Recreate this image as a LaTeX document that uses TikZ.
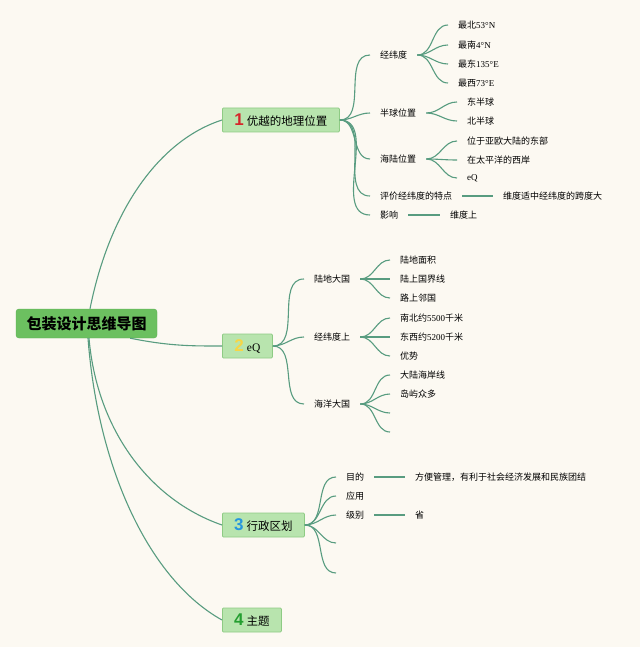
\documentclass[tikz,border=0pt]{standalone}
\usepackage{fontspec}
\setmainfont{Liberation Serif}
\newfontfamily\cjk{Noto Sans CJK SC}
\newfontfamily\numfont{Liberation Sans}
\usetikzlibrary{calc}
\definecolor{paper}{RGB}{252,249,242}
\definecolor{twig}{RGB}{88,156,128}
\definecolor{rootgreen}{RGB}{108,192,96}
\definecolor{rootedge}{RGB}{92,176,82}
\definecolor{boughfill}{RGB}{184,228,174}
\definecolor{boughedge}{RGB}{142,203,132}
\definecolor{numred}{RGB}{214,38,42}
\definecolor{numyellow}{RGB}{246,214,70}
\definecolor{numblue}{RGB}{38,150,222}
\definecolor{numgreen}{RGB}{36,158,48}
\tikzset{
	link/.style={draw=twig, line width=1.1pt},
	trunk/.style={fill=rootgreen, draw=rootedge, rounded corners=3pt, minimum width=141pt, minimum height=29pt, inner sep=0pt, font=\cjk\bfseries\fontsize{15}{15}\selectfont},
	bough/.style={fill=boughfill, draw=boughedge, line width=0.8pt, rounded corners=1pt, minimum height=24pt, inner sep=0pt, anchor=west, font=\cjk\fontsize{11.5}{12}\selectfont},
	leaf/.style={anchor=west, inner xsep=10pt, inner ysep=1pt, font=\cjk\fontsize{9}{10}\selectfont}
}
\newcommand\numb[2]{{\numfont\bfseries\fontsize{17}{17}\selectfont\color{#1}#2}\hspace{3pt}}

\begin{document}
\begin{tikzpicture}[x=1pt, y=-1pt]
			%%%%% START %%%%%
			
			\useasboundingbox (0, 0) rectangle (640, 647);
			\fill[paper] (0, 0) rectangle (640, 647);
			
			\node[trunk] (root) at (86.5, 323.5) {包装设计思维导图};
			
			\node[bough, minimum width=117pt] (b1) at (222, 120) {\numb{numred}{1}优越的地理位置};
			\node[bough, minimum width=50pt] (b2) at (222, 346) {\numb{numyellow}{2}\textrm{eQ}};
			\node[bough, minimum width=82pt] (b3) at (222, 525) {\numb{numblue}{3}行政区划};
			\node[bough, minimum width=59pt] (b4) at (222, 620) {\numb{numgreen}{4}主题};
			
			\draw[link] ([xshift=3.5pt]root.north) .. controls +(20, -100) and +(-62, 20) .. (b1.west);
			\draw[link] ([xshift=-27pt]root.south east) .. controls +(40, 8) and +(-30, 0) .. (b2.west);
			\draw[link] ([xshift=2.5pt]root.south) .. controls +(8, 92) and +(-72, -25) .. (b3.west);
			\draw[link] ([xshift=1.5pt]root.south) .. controls +(10, 132) and +(-72, -40) .. (b4.west);
			
			% 1
			\node[leaf] (c11) at (370, 55) {经纬度};
			\node[leaf] (c12) at (370, 113) {半球位置};
			\node[leaf] (c13) at (370, 159) {海陆位置};
			\node[leaf] (c14) at (370, 196) {评价经纬度的特点};
			\node[leaf] (c15) at (370, 215) {影响};
			\draw[link] (b1.east) to[out=0, in=180] (c11.west);
			\draw[link] (b1.east) to[out=0, in=180] (c12.west);
			\draw[link] (b1.east) to[out=0, in=180] (c13.west);
			\draw[link] (b1.east) to[out=0, in=180] (c14.west);
			\draw[link] (b1.east) to[out=0, in=180] (c15.west);
			
			\node[leaf] (c111) at (448, 25) {最北\textrm{53°N}};
			\node[leaf] (c112) at (448, 45) {最南\textrm{4°N}};
			\node[leaf] (c113) at (448, 64) {最东\textrm{135°E}};
			\node[leaf] (c114) at (448, 83) {最西\textrm{73°E}};
			\draw[link] (c11.east) to[out=0, in=180] (c111.west);
			\draw[link] (c11.east) to[out=0, in=180] (c112.west);
			\draw[link] (c11.east) to[out=0, in=180] (c113.west);
			\draw[link] (c11.east) to[out=0, in=180] (c114.west);
			
			\node[leaf] (c121) at (457, 102) {东半球};
			\node[leaf] (c122) at (457, 121) {北半球};
			\draw[link] (c12.east) to[out=0, in=180] (c121.west);
			\draw[link] (c12.east) to[out=0, in=180] (c122.west);
			
			\node[leaf] (c131) at (457, 141) {位于亚欧大陆的东部};
			\node[leaf] (c132) at (457, 160) {在太平洋的西岸};
			\node[leaf] (c133) at (457, 178) {\textrm{eQ}};
			\draw[link] (c13.east) to[out=0, in=180] (c131.west);
			\draw[link] (c13.east) to[out=0, in=180] (c132.west);
			\draw[link] (c13.east) to[out=0, in=180] (c133.west);
			
			\node[leaf] (c141) at (493, 196) {维度适中经纬度的跨度大};
			\draw[link] (c14.east) -- (c141.west);
			\node[leaf] (c151) at (440, 215) {维度上};
			\draw[link] (c15.east) -- (c151.west);
			
			% 2
			\node[leaf] (d1) at (304, 279) {陆地大国};
			\node[leaf] (d2) at (304, 337) {经纬度上};
			\node[leaf] (d3) at (304, 404) {海洋大国};
			\draw[link] (b2.east) to[out=0, in=180] (d1.west);
			\draw[link] (b2.east) to[out=0, in=180] (d2.west);
			\draw[link] (b2.east) to[out=0, in=180] (d3.west);
			
			\node[leaf] (d11) at (390, 260) {陆地面积};
			\node[leaf] (d12) at (390, 279) {陆上国界线};
			\node[leaf] (d13) at (390, 298) {路上邻国};
			\draw[link] (d1.east) to[out=0, in=180] (d11.west);
			\draw[link] (d1.east) to[out=0, in=180] (d12.west);
			\draw[link] (d1.east) to[out=0, in=180] (d13.west);
			
			\node[leaf] (d21) at (390, 318) {南北约\textrm{5500}千米};
			\node[leaf] (d22) at (390, 337) {东西约\textrm{5200}千米};
			\node[leaf] (d23) at (390, 356) {优势};
			\draw[link] (d2.east) to[out=0, in=180] (d21.west);
			\draw[link] (d2.east) to[out=0, in=180] (d22.west);
			\draw[link] (d2.east) to[out=0, in=180] (d23.west);
			
			\node[leaf] (d31) at (390, 375) {大陆海岸线};
			\node[leaf] (d32) at (390, 394) {岛屿众多};
			\coordinate (d33) at (390, 413);
			\coordinate (d34) at (390, 432);
			\draw[link] (d3.east) to[out=0, in=180] (d31.west);
			\draw[link] (d3.east) to[out=0, in=180] (d32.west);
			\draw[link] (d3.east) to[out=0, in=180] (d33);
			\draw[link] (d3.east) to[out=0, in=180] (d34);
			
			% 3
			\node[leaf] (e1) at (336, 477) {目的};
			\node[leaf] (e2) at (336, 496) {应用};
			\node[leaf] (e3) at (336, 515) {级别};
			\coordinate (e4) at (336, 543);
			\coordinate (e5) at (336, 573);
			\draw[link] (b3.east) to[out=0, in=180] (e1.west);
			\draw[link] (b3.east) to[out=0, in=180] (e2.west);
			\draw[link] (b3.east) to[out=0, in=180] (e3.west);
			\draw[link] (b3.east) to[out=0, in=180] (e4);
			\draw[link] (b3.east) to[out=0, in=180] (e5);
			
			\node[leaf] (e11) at (405, 477) {方便管理，有利于社会经济发展和民族团结};
			\draw[link] (e1.east) -- (e11.west);
			\node[leaf] (e31) at (405, 515) {省};
			\draw[link] (e3.east) -- (e31.west);
			
			%%%%% END %%%%%
\end{tikzpicture}
\end{document}
